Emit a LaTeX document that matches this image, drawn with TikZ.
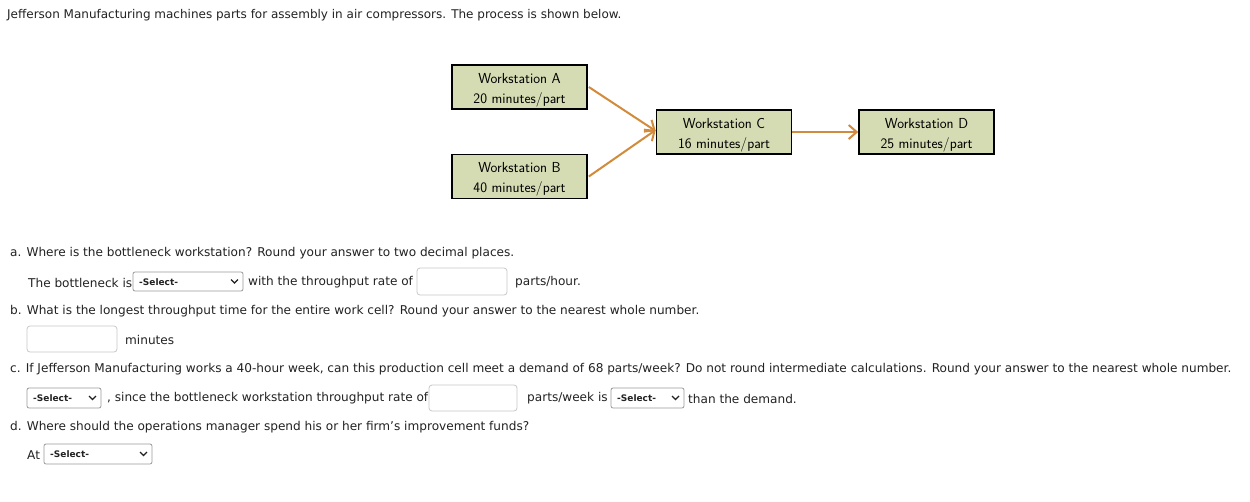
\documentclass[tikz,border=0pt]{standalone}
\usepackage{fontspec}
\setmainfont{DejaVu Sans}
\setsansfont{Latin Modern Sans}
\usetikzlibrary{arrows.meta}
\definecolor{boxfill}{HTML}{D5DBB3}
\definecolor{arrowc}{HTML}{D28B3A}
\definecolor{txt}{HTML}{222222}
\definecolor{inborder}{HTML}{C8C8C8}
\definecolor{selborder}{HTML}{9A9A9A}
\newcommand{\wslines}[2]{\raisebox{-2.5pt}[\height][\depth]{\begin{tabular}{@{}c@{}}#1\\[1pt]#2\end{tabular}}}
\tikzset{
  ws/.style={draw=black, line width=1.6pt, fill=boxfill, minimum width=135pt, minimum height=44pt, align=center, inner sep=0pt, font=\sffamily\fontsize{14.5}{19}\selectfont},
  flow/.style={draw=arrowc, line width=2pt, -{Straight Barb[length=8pt,width=14pt,line width=2pt]}},
  q/.style={anchor=west, inner sep=0pt, text=txt, font=\fontsize{12.1}{14}\selectfont},
  title/.style={anchor=west, inner sep=0pt, text=txt, font=\fontsize{12}{14}\selectfont},
  inbox/.style={draw=inborder, rounded corners=3pt, line width=0.8pt},
  selbox/.style={draw=selborder, rounded corners=2pt, line width=0.8pt, fill=white},
  seltxt/.style={anchor=west, inner sep=0pt, text=txt, font=\bfseries\fontsize{9}{10}\selectfont},
  chev/.style={draw=txt, line width=1.3pt}
}
\newcommand{\selectbox}[5]{% name, x1, y1, x2, y2
  \draw[selbox] (#2,#3) rectangle (#4,#5);
  \node[seltxt] (#1) at (#2+6,{(#3+#5)/2+0.5}) {-Select-};
  \draw[chev] (#4-12,{(#3+#5)/2-2}) -- (#4-8.5,{(#3+#5)/2+1.5}) -- (#4-5,{(#3+#5)/2-2});
}
\begin{document}
\begin{tikzpicture}[x=1pt,y=-1pt]
\useasboundingbox (0,0) rectangle (1250,501);
\fill[white] (0,0) rectangle (1250,501);

\node[title] (t) at (7,15) {Jefferson Manufacturing machines parts for assembly in air compressors. The process is shown below.};

% diagram
\node[ws] (A) at (519.5,87) {\wslines{Workstation A}{20 minutes/part}};
\node[ws] (B) at (519.5,176.5) {\wslines{Workstation B}{40 minutes/part}};
\node[ws] (C) at (724,132) {\wslines{Workstation C}{16 minutes/part}};
\node[ws] (D) at (926.5,132) {\wslines{Workstation D}{25 minutes/part}};
\draw[flow] ([xshift=1pt]A.east) -- ([yshift=1pt]C.west);
\draw[flow] ([xshift=1pt]B.east) -- ([yshift=2pt]C.west);
\draw[flow] (C.east) -- (D.west);

% question a
\node[q] (qa) at (10,253) {a. Where is the bottleneck workstation? Round your answer to two decimal places.};
\node[q] (qa1) at (28,282.5) {The bottleneck is};
\selectbox{sa}{133}{272}{243}{291}
\node[q] (qa2) at (248,282.5) {with the throughput rate of};
\draw[inbox] (417,268) rectangle (507,295);
\node[q] (qa3) at (515,282.5) {parts/hour.};

% question b
\node[q] (qb) at (10,311.5) {b. What is the longest throughput time for the entire work cell? Round your answer to the nearest whole number.};
\draw[inbox] (27,326) rectangle (117,352);
\node[q] (qb1) at (125,340) {minutes};

% question c
\node[q] (qc) at (10,369.5) {c. If Jefferson Manufacturing works a 40-hour week, can this production cell meet a demand of 68 parts/week? Do not round intermediate calculations. Round your answer to the nearest whole number.};
\selectbox{sc1}{27}{388}{101}{408}
\node[q] (qc1) at (107,398.5) {, since the bottleneck workstation throughput rate of};
\draw[inbox] (429,385) rectangle (517,411);
\node[q] (qc2) at (527,398.5) {parts/week is};
\selectbox{sc2}{611}{388}{684}{408}
\node[q] (qc3) at (688,398.5) {than the demand.};

% question d
\node[q] (qd) at (10,427) {d. Where should the operations manager spend his or her firm's improvement funds?};
\node[q] (qd1) at (27,455) {At};
\selectbox{sd}{44}{444}{152}{464}
\end{tikzpicture}
\end{document}
